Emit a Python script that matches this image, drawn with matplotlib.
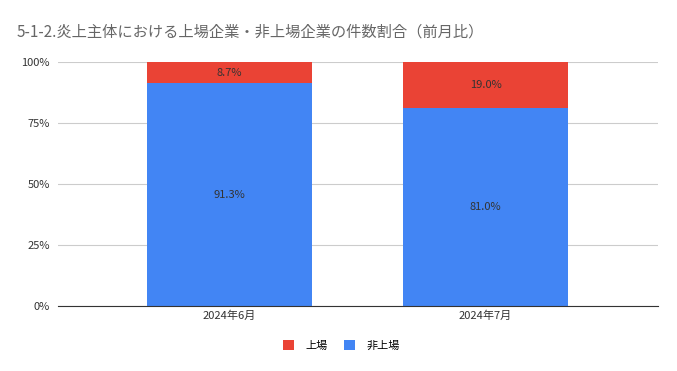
import numpy as np
import matplotlib.pyplot as plt
from matplotlib.ticker import PercentFormatter

plt.rcParams['font.family'] = ['Noto Sans CJK JP', 'DejaVu Sans']

# data
months = ['2024年6月', '2024年7月']
listed = [8.7, 19.0]
unlisted = [91.3, 81.0]
labels = ['上場', '非上場']
colors = ['#EA4335', '#4285F4']

fig = plt.figure(figsize=(6.77, 3.71), dpi=100)
ax = fig.add_axes([0.0857, 0.175, 0.8863, 0.658])

x = np.arange(len(months))
w = 0.645
b1 = ax.bar(x, unlisted, w, color=colors[1], label=labels[1], zorder=2)
b2 = ax.bar(x, listed, w, bottom=unlisted, color=colors[0], label=labels[0], zorder=2)

for i in range(len(months)):
    ax.text(x[i], unlisted[i] / 2, f'{unlisted[i]:.1f}%', ha='center', va='center',
            fontsize=8, color='#333333', zorder=3)
    ax.text(x[i], unlisted[i] + listed[i] / 2, f'{listed[i]:.1f}%', ha='center', va='center',
            fontsize=8, color='#333333', zorder=3)

ax.set_xlim(-0.67, 1.674)
ax.set_ylim(0, 100)
ax.set_yticks([0, 25, 50, 75, 100])
ax.yaxis.set_major_formatter(PercentFormatter(decimals=0))
ax.set_xticks(x)
ax.set_xticklabels(months)
ax.tick_params(axis='both', length=0, labelsize=8, colors='#333333')
ax.tick_params(axis='y', pad=6)
ax.grid(axis='y', color='#cccccc', linewidth=0.8, zorder=0)
for s in ['top', 'right', 'left']:
    ax.spines[s].set_visible(False)
ax.spines['bottom'].set_color('#333333')

fig.text(0.024, 0.915, '5-1-2.炎上主体における上場企業・非上場企業の件数割合（前月比）',
         fontsize=11, color='#666666', va='center', ha='left')

ax.legend(handles=[b2, b1], labels=labels, loc='center', bbox_to_anchor=(0.472, -0.16),
          ncol=2, frameon=False, fontsize=8, handlelength=1.0, handleheight=1.0,
          columnspacing=1.5, handletextpad=1.0)

fig.savefig('out.png', dpi=100)
